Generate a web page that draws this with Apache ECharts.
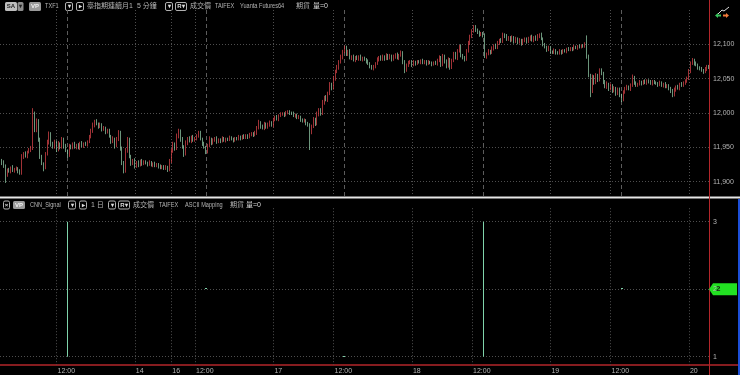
<!DOCTYPE html>
<html><head><meta charset="utf-8">
<script src="https://cdn.jsdelivr.net/npm/echarts@6/dist/echarts.min.js"></script>
<style>html,body{margin:0;padding:0;background:#000;overflow:hidden}#c{width:740px;height:375px}</style>
</head><body><div id="c"></div>
<script>
// ---- session structure (15-minute bars) ----
const sessionDays   = ['13','13','13','14','16','16','17','17','17','18','18','18','19','19','19','20'];
const sessionStarts = ['00:30','08:45','15:00','00:00','08:45','15:00','00:00','08:45','15:00','00:00','08:45','15:00','00:00','08:45','15:00','00:00'];
const sessionBars   = [18,20,36,20,20,36,20,20,36,20,20,36,20,20,36,12];

// ---- price data (closes; open = previous close) ----
const firstOpen = 11933;
const closes = [
11931,11927,11922,11910,11917,11915,11920,11916,11918,11919,
11915,11912,11936,11941,11937,11943,11946,11950,11998,11975,
11988,11962,11936,11926,11921,11940,11957,11970,11955,11950,
11958,11946,11955,11950,11962,11952,11945,11938,11952,11950,
11955,11950,11953,11949,11956,11952,11955,11954,11958,11965,
11974,11982,11988,11984,11980,11983,11976,11978,11972,11974,
11966,11958,11962,11952,11962,11972,11948,11928,11916,11945,
11962,11936,11926,11931,11922,11928,11924,11930,11926,11929,
11927,11925,11928,11924,11926,11923,11925,11922,11920,11922,
11919,11921,11917,11930,11944,11955,11948,11966,11974,11962,
11951,11940,11956,11963,11959,11965,11960,11963,11966,11971,
11962,11955,11950,11944,11952,11962,11956,11960,11963,11958,
11961,11959,11963,11960,11962,11961,11964,11962,11960,11963,
11962,11965,11963,11966,11964,11967,11965,11968,11970,11968,
11971,11978,11986,11980,11978,11984,11979,11983,11986,11982,
11990,11994,11991,11996,11998,11999,11997,12000,12002,12000,
11999,11996,11997,11993,11994,11990,11988,11989,11985,11982,
11972,11980,11990,11984,11998,12004,11999,12015,12022,12019,
12028,12041,12036,12050,12060,12066,12074,12081,12089,12095,
12086,12090,12080,12082,12077,12081,12079,12082,12078,12080,
12078,12075,12072,12068,12065,12067,12072,12078,12081,12078,
12082,12079,12084,12080,12083,12078,12082,12085,12080,12084,
12088,12074,12062,12070,12073,12075,12070,12074,12072,12075,
12074,12076,12073,12075,12072,12074,12073,12071,12073,12072,
12076,12081,12070,12083,12075,12068,12078,12066,12076,12086,
12080,12090,12097,12084,12080,12078,12090,12102,12111,12119,
12125,12121,12117,12114,12116,12113,12082,12086,12090,12088,
12094,12098,12095,12102,12106,12104,12114,12112,12107,12110,
12106,12110,12104,12108,12103,12106,12101,12105,12108,12104,
12108,12111,12106,12110,12107,12112,12114,12108,12100,12096,
12092,12095,12089,12088,12091,12088,12087,12090,12088,12091,
12090,12093,12092,12094,12093,12096,12095,12097,12096,12098,
12097,12100,12082,12055,12032,12052,12044,12055,12048,12062,
12058,12045,12038,12042,12035,12040,12032,12036,12028,12034,
12026,12019,12030,12036,12038,12035,12040,12052,12044,12040,
12042,12045,12043,12046,12044,12047,12045,12043,12046,12044,
12043,12041,12044,12040,12042,12038,12040,12036,12032,12026,
12034,12038,12036,12042,12040,12044,12046,12050,12060,12072,
12077,12072,12070,12066,12064,12062,12060,12064,12068,12066
];
const wickUp = [
3,2,4,3,2,3,2,4,2,3, 2,3,4,2,3,2,3,2,9,4, 4,3,2,3,2,3,4,3,2,3, 3,2,4,2,3,2,3,2,3,2,
2,3,2,3,2,3,2,3,2,3, 3,4,2,3,2,3,2,3,2,3, 3,2,4,2,3,3,2,3,2,4, 3,2,3,2,3,2,3,2,3,2,
2,2,3,2,2,3,2,2,3,2, 2,3,2,3,4,3,2,4,3,2, 3,2,4,2,3,2,3,2,3,3, 3,2,3,2,3,4,2,3,2,3,
2,2,3,2,2,2,3,2,2,2, 2,3,2,2,3,2,2,3,2,2, 3,3,4,2,3,3,2,3,3,2, 3,2,3,2,3,2,2,3,2,2,
2,3,2,2,3,2,2,3,2,2, 3,3,4,3,4,3,3,4,3,4, 3,4,3,4,3,4,3,4,3,3, 3,2,3,2,3,2,3,2,3,2,
2,2,3,2,2,3,2,3,2,3, 3,2,3,2,3,2,3,2,3,2, 3,2,3,2,3,2,2,3,2,2, 2,2,3,2,2,3,2,2,2,3,
3,3,2,3,2,3,3,2,3,3, 3,3,2,3,2,3,3,3,3,3, 3,3,2,3,2,2,3,2,3,2, 3,2,3,3,2,3,3,2,3,2,
2,3,2,3,2,3,2,3,2,2, 3,2,3,2,3,3,2,3,2,2, 2,3,2,2,3,2,2,3,2,2, 2,2,3,2,2,3,2,2,3,2,
2,3,13,3,2,4,3,3,2,3, 3,2,3,4,2,3,2,3,2,3, 3,2,3,2,3,2,3,4,2,2, 2,3,2,2,3,2,2,3,2,2,
2,2,3,2,2,3,2,2,2,3, 3,2,3,2,3,2,3,3,4,3, 3,2,3,2,2,3,2,3,2,2
];
const wickDown = [
2,3,2,12,3,2,3,2,3,2, 3,2,2,3,2,3,2,3,4,3, 3,4,3,2,6,3,2,3,4,2, 2,3,2,3,2,4,2,3,2,3,
3,2,3,2,3,2,3,2,3,2, 2,3,3,2,3,2,3,2,3,2, 2,3,2,4,2,3,3,4,4,3, 3,2,3,2,3,2,3,2,3,2,
2,3,2,2,3,2,2,3,2,2, 2,2,3,2,3,2,3,2,3,4, 3,4,2,3,2,3,2,2,3,2, 2,3,2,4,3,2,3,2,2,3,
2,3,2,2,3,2,2,2,3,2, 2,2,3,2,2,2,3,2,2,3, 2,3,2,3,2,3,2,2,3,2, 3,2,2,3,2,2,3,2,2,3,
2,2,3,2,2,3,2,2,3,2, 26,3,2,3,2,3,3,2,3,2, 3,2,3,2,3,2,3,2,3,2, 3,3,2,3,2,3,2,3,2,3,
2,3,2,3,2,3,2,2,3,2, 2,3,2,3,2,3,2,3,2,3, 2,3,4,2,3,2,3,2,3,2, 2,3,2,2,3,2,2,3,2,2,
3,2,3,2,3,3,2,3,2,2, 2,3,2,3,2,3,2,2,3,2, 2,3,2,3,2,3,2,3,2,3, 2,3,2,2,3,2,2,3,2,2,
3,2,3,2,3,2,3,2,2,3, 2,3,2,3,2,2,3,2,3,2, 3,2,3,2,2,3,2,2,3,2, 2,3,2,2,3,2,2,3,2,2,
2,2,3,3,9,3,3,2,3,2, 3,3,2,3,3,2,3,2,3,2, 3,3,2,2,3,2,3,2,3,2, 2,2,3,2,2,3,2,2,3,2,
2,3,2,2,3,2,2,3,3,3, 2,3,2,3,2,2,3,2,2,2, 2,3,2,3,2,2,3,2,3,2
];

// ---- CNN_Signal (daily) ----
const signalDays = ['13','16','17','18','19'];
const signalLow  = [1,2,1,1,2];
const signalHigh = [3,2,1,3,2];
const lastSignal = 2;

// ---- axis ticks ----
const priceTicks = [11900,11950,12000,12050,12100];
const signalTicks = [1,2,3];

// ---- build categories ----
const categories = [];
sessionDays.forEach((d, s) => {
  const [h, m] = sessionStarts[s].split(':').map(Number);
  for (let k = 0; k < sessionBars[s]; k++) {
    const t = h * 60 + m + k * 15;
    const hh = String(Math.floor(t / 60)).padStart(2, '0');
    const mm = String(t % 60).padStart(2, '0');
    categories.push(d + ' ' + hh + ':' + mm);
  }
});
const labelIdx = new Set();
categories.forEach((c, i) => {
  if (i === 0) return;
  if (c.slice(3) === '12:00' || c.slice(0, 2) !== categories[i - 1].slice(0, 2)) labelIdx.add(i);
});
const sessionEnds = categories.filter(c => c.slice(3) === '13:30');

const candles = [];
let prev = firstOpen;
closes.forEach((c, i) => {
  const o = prev;
  candles.push([o, c, Math.min(o, c) - wickDown[i], Math.max(o, c) + wickUp[i]]);
  prev = c;
});
const signalData = signalDays.map((d, i) => [categories.indexOf(d + ' 13:30'), signalLow[i], signalHigh[i]]);

const FONT = "'Liberation Sans','Noto Sans CJK TC',sans-serif";
const TXT = '#b4b4b4';
const dotted = { type: [1, 2], color: '#4e4e4e', width: 1 };

function xAxisCfg(gridIndex, showLabels) {
  return {
    type: 'category', gridIndex, data: categories, boundaryGap: false,
    axisLine: { show: false }, axisTick: { show: false },
    axisLabel: {
      show: showLabels, interval: (i) => labelIdx.has(i), color: TXT, fontSize: 7, fontFamily: FONT,
      align: 'left', margin: 3, padding: [0, 0, 0, 1],
      formatter: (v) => v.slice(3) === '12:00' ? '12:00' : v.slice(0, 2)
    },
    splitLine: { show: true, interval: (i) => labelIdx.has(i), lineStyle: dotted }
  };
}

const chart = echarts.init(document.getElementById('c'), null, { renderer: 'canvas' });

function box(x, y, w, h, fill, stroke, label, color) {
  const els = [{ type: 'rect', shape: { x, y, width: w, height: h, r: 1.5 }, style: { fill: fill || 'transparent', stroke: stroke || null, lineWidth: 1 } }];
  if (label) els.push({ type: 'text', x: x + w / 2, y: y + h / 2, style: { text: label, fill: color || '#ddd', font: 'bold 6px ' + FONT, align: 'center', verticalAlign: 'middle' } });
  return els;
}
function txt(x, y, s, color, sx) {
  return { type: 'text', x, y, scaleX: sx || 1, style: { text: s, fill: color || TXT, font: '7px ' + FONT, verticalAlign: 'middle' } };
}
const NX = 0.8;
const g = [];
// top header
const ty = 2, th = 9, tc = 6.5;
g.push(...box(5, ty, 12, th, '#bdbdbd', null, 'SA', '#222'));
g.push(...box(17.5, ty, 6, th, '#8e8e8e', null, '▾', '#222'));
g.push(...box(29, ty, 12, th, '#9a9a9a', null, 'VP', '#f0f0f0'));
g.push(txt(45, tc, 'TXF1', null, NX));
g.push(...box(65.5, ty + 0.5, 7, th - 1, null, '#b0b0b0', '▾'));
g.push(...box(76.5, ty + 0.5, 7, th - 1, null, '#b0b0b0', '▸'));
g.push(txt(87, tc, '臺指期連續月1'));
g.push(txt(137, tc, '5 分鐘'));
g.push(...box(165.5, ty + 0.5, 7, th - 1, null, '#b0b0b0', '▾'));
g.push(...box(175.5, ty + 0.5, 11, th - 1, null, '#b0b0b0', 'R▾'));
g.push(txt(190, tc, '成交價'));
g.push(txt(215, tc, 'TAIFEX', null, NX));
g.push(txt(240, tc, 'Yuanta Futures64', null, NX));
g.push(txt(296, tc, '期貨'));
g.push(txt(313, tc, '量=0', '#d8d8d8'));
// bottom header
const by = 201, bh = 8, bc = 205;
g.push(...box(3.5, by, 6, bh, null, '#b0b0b0', '×'));
g.push(...box(13, by, 12, bh, '#9a9a9a', null, 'VP', '#f0f0f0'));
g.push(txt(30, bc, 'CNN_Signal', null, NX));
g.push(...box(68.5, by, 7, bh, null, '#b0b0b0', '▾'));
g.push(...box(79.5, by, 7, bh, null, '#b0b0b0', '▸'));
g.push(txt(91, bc, '1 日'));
g.push(...box(108.5, by, 7, bh, null, '#b0b0b0', '▾'));
g.push(...box(118.5, by, 11, bh, null, '#b0b0b0', 'R▾'));
g.push(txt(133, bc, '成交價'));
g.push(txt(159, bc, 'TAIFEX', null, NX));
g.push(txt(185, bc, 'ASCII Mapping', null, NX));
g.push(txt(230, bc, '期貨'));
g.push(txt(246, bc, '量=0', '#d8d8d8'));
// frame lines
g.push({ type: 'line', shape: { x1: 0, y1: 197.5, x2: 740, y2: 197.5 }, style: { stroke: '#e6e6e6', lineWidth: 2 } });
g.push({ type: 'line', shape: { x1: 709.5, y1: 0, x2: 709.5, y2: 375 }, style: { stroke: '#b3262a', lineWidth: 1 } });
g.push({ type: 'line', shape: { x1: 0, y1: 365, x2: 738, y2: 365 }, style: { stroke: '#b3262a', lineWidth: 1.5 } });
g.push({ type: 'line', shape: { x1: 739, y1: 199, x2: 739, y2: 375 }, style: { stroke: '#1d4fd8', lineWidth: 2 } });
// top-right icon
g.push({ type: 'polyline', shape: { points: [[718, 14], [722, 10], [724, 11], [729, 7]] }, style: { stroke: '#dddddd', lineWidth: 1, fill: null } });
g.push({ type: 'polygon', shape: { points: [[715, 15.5], [718, 13], [718, 18]] }, style: { fill: '#37c25a' } });
g.push({ type: 'rect', shape: { x: 718, y: 14.5, width: 3, height: 2 }, style: { fill: '#37c25a' } });
g.push({ type: 'polygon', shape: { points: [[729, 15.5], [726, 13], [726, 18]] }, style: { fill: '#f07a3a' } });
g.push({ type: 'rect', shape: { x: 723, y: 14.5, width: 3, height: 2 }, style: { fill: '#f07a3a' } });

const SIG = '#7fd3aa';
const option = {
  backgroundColor: '#000',
  animation: false,
  grid: [
    { left: 0, right: 31, top: 10, height: 186, outerBoundsMode: 'none', containLabel: false },
    { left: 0, right: 31, top: 208.2, height: 156.6, outerBoundsMode: 'none', containLabel: false }
  ],
  xAxis: [xAxisCfg(0, false), xAxisCfg(1, true)],
  yAxis: [
    { type: 'value', gridIndex: 0, position: 'right', min: 11879, max: 12150, scale: true,
      axisLine: { show: false }, axisTick: { show: false }, splitLine: { show: false },
      axisLabel: { customValues: priceTicks, color: TXT, fontSize: 7, fontFamily: FONT, margin: 4,
        formatter: (v) => Number(v).toLocaleString('en-US') } },
    { type: 'value', gridIndex: 1, position: 'right', min: 0.88, max: 3.2,
      axisLine: { show: false }, axisTick: { show: false }, splitLine: { show: false },
      axisLabel: { customValues: signalTicks, color: TXT, fontSize: 7, fontFamily: FONT, margin: 4 } }
  ],
  series: [
    { type: 'candlestick', xAxisIndex: 0, yAxisIndex: 0, data: candles, barWidth: 1.3, z: 3,
      itemStyle: { color: '#e5484d', color0: '#9ad6b0', borderColor: '#e5484d', borderColor0: '#9ad6b0', borderWidth: 0.7 },
      markLine: { silent: true, symbol: 'none', label: { show: false }, animation: false, z: 1,
        data: priceTicks.map(v => ({ yAxis: v, lineStyle: dotted }))
          .concat(sessionEnds.map(c => ({ xAxis: c, lineStyle: { type: [4, 3], color: '#5c5c5c', width: 1 } }))) } },
    { type: 'line', xAxisIndex: 1, yAxisIndex: 1, data: [], silent: true,
      markLine: { silent: true, symbol: 'none', label: { show: false }, animation: false,
        data: signalTicks.map(v => ({ yAxis: v, lineStyle: dotted })) } },
    { type: 'custom', xAxisIndex: 1, yAxisIndex: 1, data: signalData, z: 10,
      renderItem: (params, api) => {
        const p1 = api.coord([api.value(0), api.value(1)]);
        const p2 = api.coord([api.value(0), api.value(2)]);
        const px = Math.round(p1[0]);
        if (Math.abs(p1[1] - p2[1]) < 1) {
          return { type: 'rect', shape: { x: px - 1, y: Math.round(p1[1]) - 1, width: 2, height: 1 }, style: { fill: SIG } };
        }
        return { type: 'rect', shape: { x: px, y: p2[1], width: 1, height: p1[1] - p2[1] }, style: { fill: SIG } };
      } }
  ],
  graphic: g
};
chart.setOption(option);

// last-value tag on signal axis
const ly = chart.convertToPixel({ yAxisIndex: 1 }, lastSignal);
chart.setOption({ graphic: g.concat([
  { type: 'polygon', shape: { points: [[709, ly], [713, ly - 6], [737, ly - 6], [737, ly + 6], [713, ly + 6]] }, style: { fill: '#22e022' } },
  { type: 'text', x: 716, y: ly, style: { text: String(lastSignal), fill: '#1a1a1a', font: 'bold 8px ' + FONT, verticalAlign: 'middle' } }
]) });
</script>
</body></html>
